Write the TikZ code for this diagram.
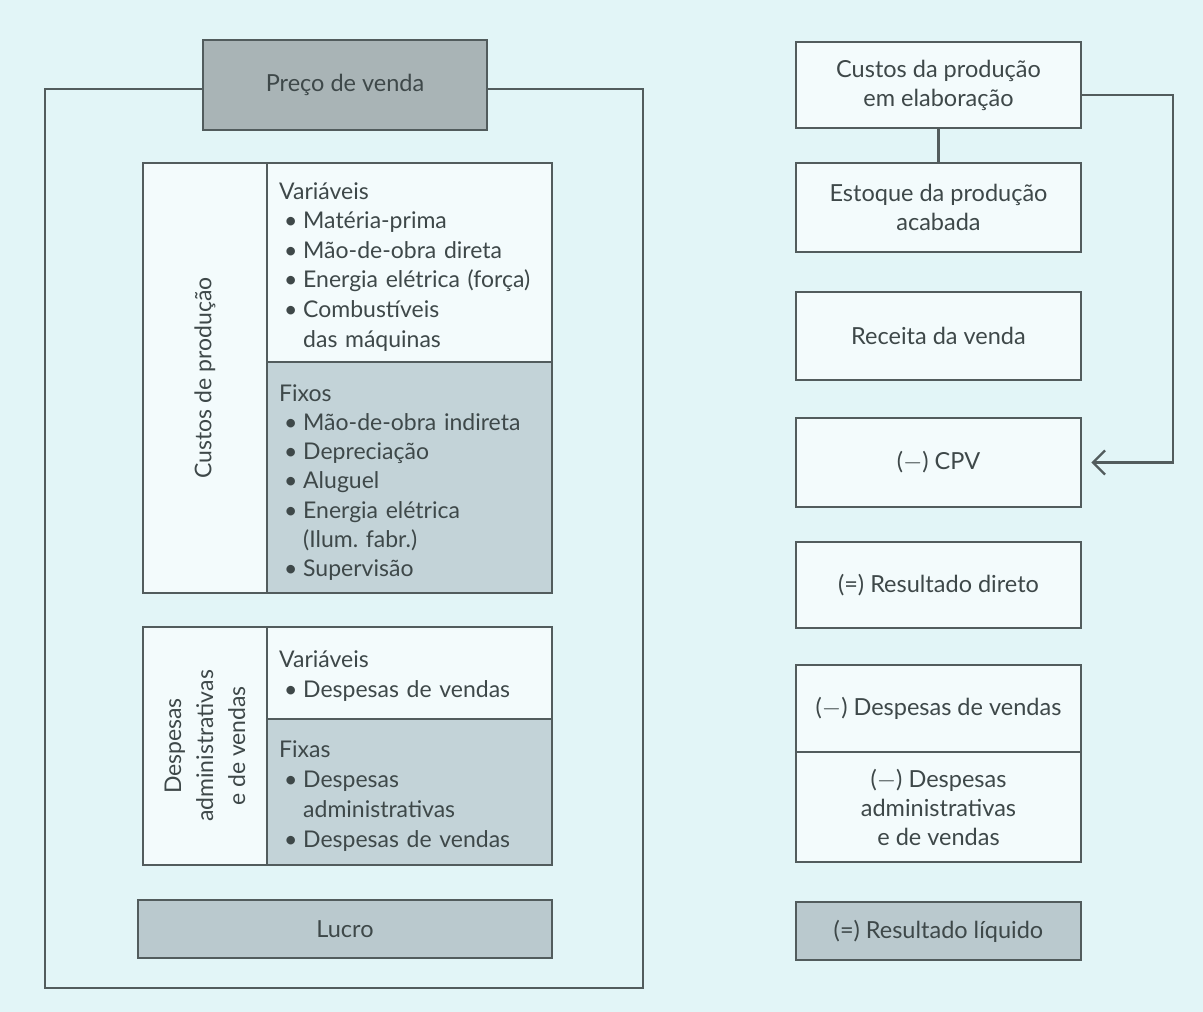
\documentclass[tikz,border=0pt]{standalone}
\usepackage{fontspec}
\setmainfont{Lato}
\usetikzlibrary{arrows.meta}
\frenchspacing

\definecolor{paper}{HTML}{E2F5F7}
\definecolor{cellwhite}{HTML}{F3FBFC}
\definecolor{edge}{HTML}{525C5D}
\definecolor{ink}{HTML}{3E4849}
\definecolor{darkfill}{HTML}{A9B4B6}
\definecolor{midfill}{HTML}{C3D3D8}
\definecolor{softfill}{HTML}{BAC9CE}

\newcommand\bulletitem[1]{\hspace*{5pt}\makebox[19pt][l]{\textbullet}#1}
\newcommand\hangline[1]{\hspace*{24pt}#1}
\newcommand\minussign{($-$)}

\begin{document}
\begin{tikzpicture}[x=1pt,y=-1pt,
  font=\fontsize{23}{29.6}\selectfont, text=ink,
  box/.style={draw=edge, line width=2.6pt, rectangle, inner sep=0pt, align=center},
  listtext/.style={anchor=base west, inner sep=0pt, text width=272pt, align=left},
  link/.style={draw=edge, line width=2.6pt}]

% page
\fill[paper] (0,0) rectangle (1203,1012);
\useasboundingbox (0,0) rectangle (1203,1012);

% ---------- left: composition of the sale price ----------
\coordinate (fTL) at (45,89);
\coordinate (fBR) at (643,988);
\node[box, fill=darkfill, minimum width=284pt, minimum height=90pt] (precobg) at (345,85) {};
\draw[link] (precobg.west |- fTL) -- (fTL) -- (fTL |- fBR) -- (fBR) -- (fBR |- fTL) -- (precobg.east |- fTL);
\node[box, fill=darkfill, minimum width=284pt, minimum height=90pt,
  font=\fontsize{23.5}{28}\selectfont] (preco) at (345,85) {Preço de venda};

% production costs
\node[box, fill=cellwhite, rotate=90, minimum width=430pt, minimum height=124pt]
  (cplabel) at (205,378) {Custos de produção};
\node[box, fill=cellwhite, minimum width=285pt, minimum height=199pt] (cpvar) at (409.5,262.5) {};
\node[box, fill=midfill, minimum width=285pt, minimum height=231pt] (cpfix) at (409.5,477.5) {};
\node[listtext] (cpvartxt) at (279,199) {Variáveis\\
  \bulletitem{Matéria-prima}\\
  \bulletitem{Mão-de-obra direta}\\
  \bulletitem{Energia elétrica (força)}\\
  \bulletitem{Combustíveis}\\
  \hangline{das máquinas}};
\node[listtext, font=\fontsize{23}{29.3}\selectfont] (cpfixtxt) at (279,401) {Fixos\\
  \bulletitem{Mão-de-obra indireta}\\
  \bulletitem{Depreciação}\\
  \bulletitem{Aluguel}\\
  \bulletitem{Energia elétrica}\\
  \hangline{(Ilum. fabr.)}\\
  \bulletitem{Supervisão}};

% administrative and sales expenses
\node[box, fill=cellwhite, rotate=90, minimum width=238pt, minimum height=124pt,
  font=\fontsize{23}{32}\selectfont]
  (dalabel) at (205,746) {Despesas\\administrativas\\e de vendas};
\node[box, fill=cellwhite, minimum width=285pt, minimum height=92pt] (davar) at (409.5,673) {};
\node[box, fill=midfill, minimum width=285pt, minimum height=146pt] (dafix) at (409.5,792) {};
\node[listtext, font=\fontsize{23}{30}\selectfont] (davartxt) at (279,667) {Variáveis\\
  \bulletitem{Despesas de vendas}};
\node[listtext, font=\fontsize{23}{30}\selectfont] (dafixtxt) at (279,757) {Fixas\\
  \bulletitem{Despesas}\\
  \hangline{administrativas}\\
  \bulletitem{Despesas de vendas}};

% profit
\node[box, fill=softfill, minimum width=414pt, minimum height=58pt,
  font=\fontsize{23.5}{28}\selectfont] (lucro) at (345,929) {Lucro};

% ---------- right: result statement ----------
\begin{scope}[every node/.append style={box, fill=cellwhite, minimum width=285pt,
  font=\fontsize{23.5}{29}\selectfont}]
\node[minimum height=86pt]  (custosprod) at (938.5,85)    {Custos da produção\\em elaboração};
\node[minimum height=89pt]  (estoque)    at (938.5,207.5) {Estoque da produção\\acabada};
\node[minimum height=88pt]  (receita)    at (938.5,336)   {Receita da venda};
\node[minimum height=89pt]  (cpv)        at (938.5,462.5) {\minussign{} CPV};
\node[minimum height=86pt]  (resdir)     at (938.5,585)   {(=) Resultado direto};
\node[minimum height=87pt]  (despv)      at (938.5,708.5) {\minussign{} Despesas de vendas};
\node[minimum height=110pt] (despadm)    at (938.5,807)   {\minussign{} Despesas\\administrativas\\e de vendas};
\node[minimum height=58pt, fill=softfill] (resliq) at (938.5,931) {(=) Resultado líquido};
\end{scope}

% flows
\draw[link] (custosprod) -- (estoque);
\coordinate (turn) at (1173,95);
\draw[link, -{Straight Barb[length=12pt,width=24pt,line width=2.4pt]}, shorten >=9pt]
  (custosprod.east |- turn) -- (turn) |- (cpv.east);
\end{tikzpicture}
\end{document}
